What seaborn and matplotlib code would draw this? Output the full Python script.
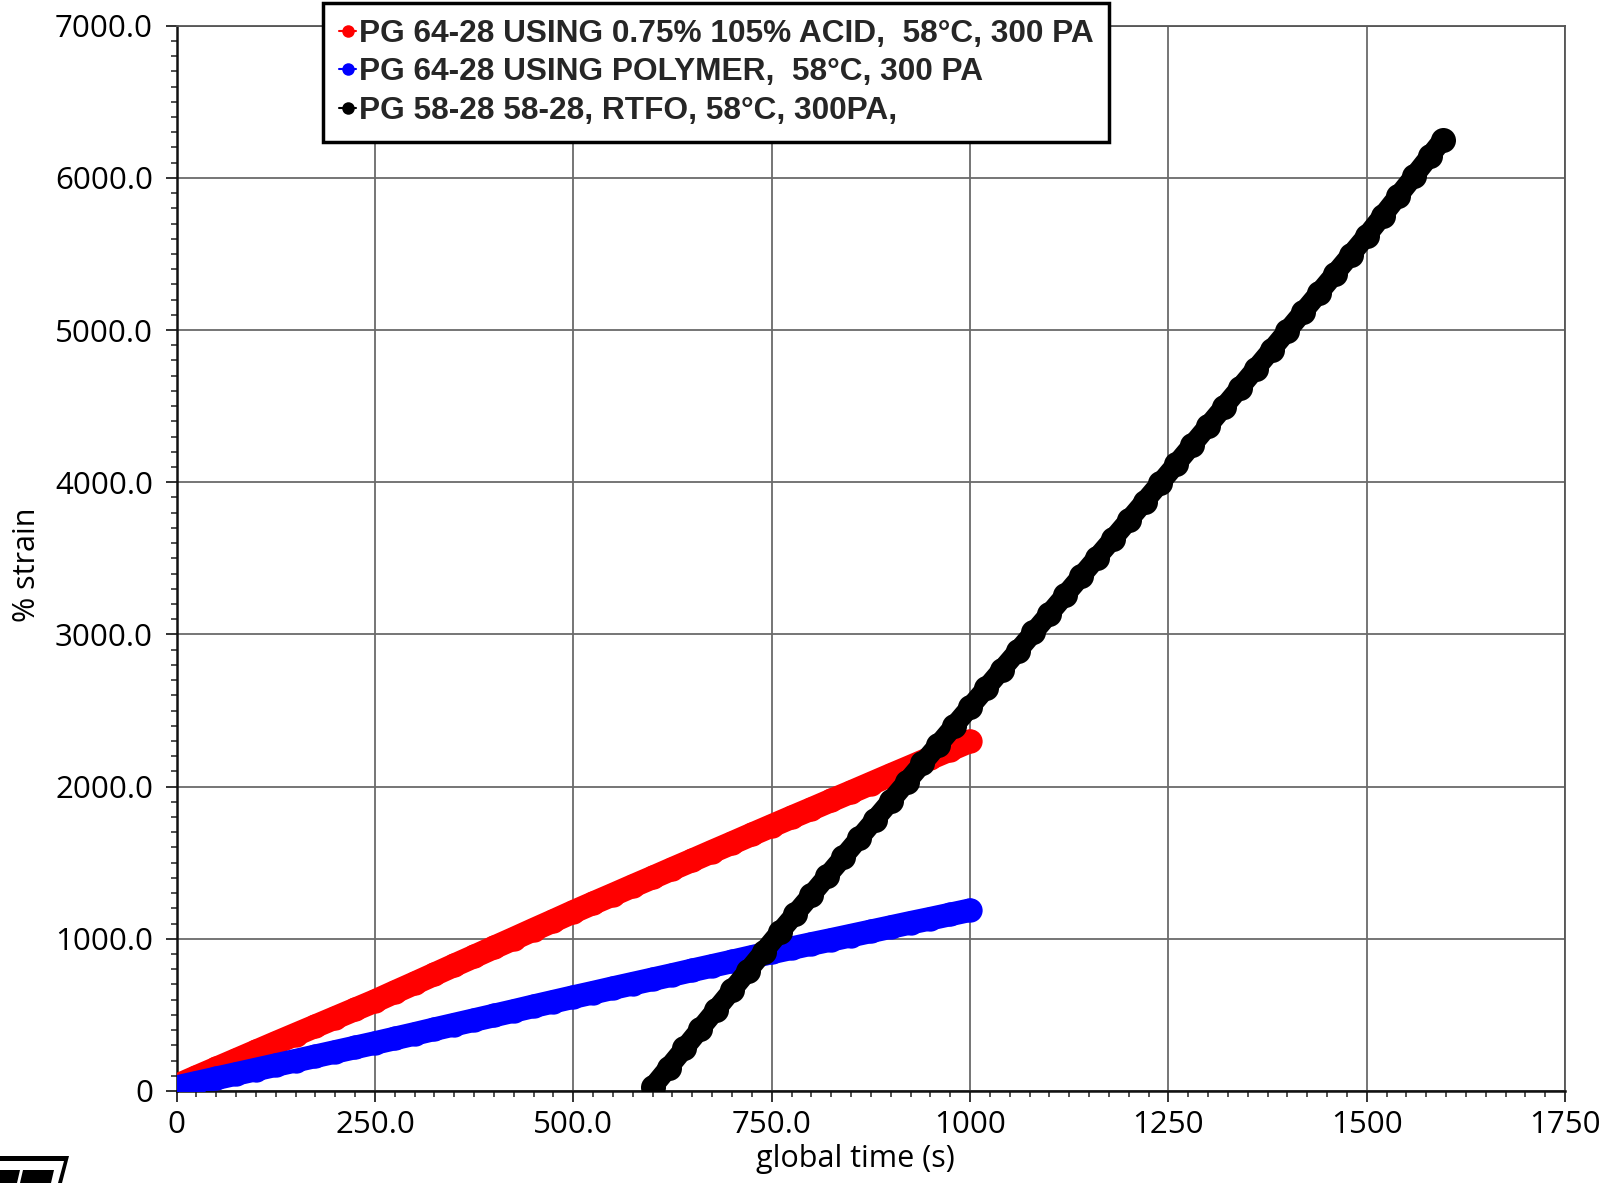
import numpy as np
import pandas as pd
import matplotlib
matplotlib.use("Agg")
import matplotlib.pyplot as plt
from matplotlib.lines import Line2D
from matplotlib.patches import Polygon
from matplotlib.ticker import MultipleLocator, FixedLocator, FixedFormatter
from matplotlib import font_manager
import seaborn as sns

# ---------------- data ----------------
red_t = [0, 25, 50, 75, 100, 125, 150, 175, 200, 225, 250, 275, 300, 325, 350, 375, 400,
         425, 450, 475, 500, 525, 550, 575, 600, 625, 650, 675, 700, 725, 750, 775, 800,
         825, 850, 875, 900, 925, 950, 975, 1000]
red_v = [35, 92, 148, 204, 260, 316, 371, 426, 481, 536, 591, 650, 708, 767, 826, 884, 943,
         1001, 1060, 1118, 1177, 1234, 1290, 1347, 1403, 1460, 1516, 1573, 1629, 1686, 1742,
         1798, 1853, 1909, 1964, 2020, 2076, 2131, 2187, 2242, 2298]

blue_t = red_t
blue_v = [25, 54, 83, 112, 141, 170, 199, 228, 257, 286, 315, 345, 375, 406, 436, 466, 496,
          526, 557, 587, 617, 646, 676, 705, 734, 763, 793, 822, 851, 881, 910, 938, 966,
          993, 1021, 1049, 1077, 1105, 1132, 1160, 1188]

black_t = [600, 620, 640, 660, 680, 700, 720, 740, 760, 780, 800, 820, 840, 860, 880, 900,
           920, 940, 960, 980, 1000, 1020, 1040, 1060, 1080, 1100, 1120, 1140, 1160, 1180,
           1200, 1220, 1240, 1260, 1280, 1300, 1320, 1340, 1360, 1380, 1400, 1420, 1440,
           1460, 1480, 1500, 1520, 1540, 1560, 1580, 1596]
black_v = [26, 153, 280, 408, 535, 662, 789, 916, 1042, 1165, 1288, 1412, 1535, 1659, 1782,
           1905, 2029, 2152, 2275, 2399, 2522, 2645, 2768, 2890, 3013, 3136, 3259, 3382, 3505,
           3627, 3750, 3873, 3996, 4120, 4245, 4370, 4495, 4620, 4745, 4870, 4995, 5120, 5245,
           5370, 5495, 5620, 5751, 5883, 6014, 6146, 6251]

labels = ["PG 64-28 USING 0.75% 105% ACID,  58°C, 300 PA",
          "PG 64-28 USING POLYMER,  58°C, 300 PA",
          "PG 58-28 58-28, RTFO, 58°C, 300PA,"]
colors = ["#ff0000", "#0000ff", "#000000"]

x_ticks = [0, 250, 500, 750, 1000, 1250, 1500, 1750]
x_ticklabels = ["0", "250.0", "500.0", "750.0", "1000", "1250", "1500", "1750"]
y_ticks = [0, 1000, 2000, 3000, 4000, 5000, 6000, 7000]
y_ticklabels = ["0", "1000.0", "2000.0", "3000.0", "4000.0", "5000.0", "6000.0", "7000.0"]

# ---------------- style ----------------
sns.set_theme(style="white")
names = {f.name for f in font_manager.fontManager.ttflist}
tick_font = "Open Sans" if "Open Sans" in names else "DejaVu Sans"
leg_font = "Liberation Sans Narrow" if "Liberation Sans Narrow" in names else "Liberation Sans"
plt.rcParams["font.family"] = [tick_font, "DejaVu Sans"]

fig = plt.figure(figsize=(16.1, 11.83), dpi=100)
fig.patch.set_facecolor("white")
ax = fig.add_axes([0.1097, 0.0778, 0.8624, 0.9005])

series = [(red_t, red_v), (blue_t, blue_v), (black_t, black_v)]
msizes = [17.5, 17.5, 18]
lwidths = [17, 17, 14.5]
for (t, v), c, lab, ms, lw in zip(series, colors, labels, msizes, lwidths):
    df = pd.DataFrame({"t": t, "v": v})
    sns.lineplot(data=df, x="t", y="v", ax=ax, color=c, linewidth=lw, marker="o",
                 markersize=ms, markeredgewidth=0, sort=False, estimator=None,
                 solid_capstyle="round", zorder=3)

ax.set_xlim(0, 1750)
ax.set_ylim(0, 7000)
ax.xaxis.set_major_locator(FixedLocator(x_ticks))
ax.xaxis.set_major_formatter(FixedFormatter(x_ticklabels))
ax.yaxis.set_major_locator(FixedLocator(y_ticks))
ax.yaxis.set_major_formatter(FixedFormatter(y_ticklabels))
ax.xaxis.set_minor_locator(MultipleLocator(25))
ax.yaxis.set_minor_locator(MultipleLocator(100))

ax.grid(True, which="major", color="#6a6a6a", linewidth=1.3, zorder=1)
ax.set_axisbelow(True)
ax.tick_params(axis="both", which="major", direction="out", length=8, width=1.3,
               color="#222222", labelsize=22.5, pad=9, labelcolor="black")
ax.tick_params(axis="x", which="major", pad=6)
ax.tick_params(axis="both", which="minor", direction="out", length=4.5, width=1.1,
               color="#222222")
ax.tick_params(axis="x", which="both", bottom=True, top=False)
ax.tick_params(axis="y", which="both", left=True, right=False)

for side in ["left", "bottom"]:
    ax.spines[side].set_color("#111111")
    ax.spines[side].set_linewidth(1.8)
for side in ["right", "top"]:
    ax.spines[side].set_color("#555555")
    ax.spines[side].set_linewidth(1.3)

ax.set_xlabel("global time (s)", fontsize=22, color="black")
ax.set_ylabel("% strain", fontsize=22, color="black")
ax.xaxis.set_label_coords(0.4886, -0.050)
ax.yaxis.set_label_coords(-0.097, 0.494)

handles = [Line2D([], [], color=c, marker="o", markersize=9, linewidth=1.5,
                  markeredgewidth=0) for c in colors]
leg = fig.legend(handles, labels, loc="upper left",
                 bbox_to_anchor=(323 / 1610, 1 - 3 / 1183),
                 bbox_transform=fig.transFigure,
                 prop={"family": leg_font, "weight": "bold", "size": 22.8},
                 frameon=True, fancybox=False, shadow=False, framealpha=1,
                 edgecolor="black", facecolor="white",
                 handlelength=0.55, handletextpad=0.08, borderpad=0.5,
                 labelspacing=0.27, borderaxespad=0.0)
leg.get_frame().set_linewidth(2.5)
leg.set_zorder(10)

# partial logo in the lower-left corner
W, H = 1610.0, 1183.0
def P(pts):
    return [(x / W, 1 - y / H) for x, y in pts]
fig.patches.append(Polygon(P([(0, 1156), (69, 1156), (62, 1183), (58, 1183), (64, 1161), (0, 1161)]),
                           closed=True, transform=fig.transFigure, facecolor="black",
                           edgecolor="none"))
fig.patches.append(Polygon(P([(0, 1170), (20, 1170), (17, 1183), (0, 1183)]),
                           closed=True, transform=fig.transFigure, facecolor="black",
                           edgecolor="none"))
fig.patches.append(Polygon(P([(23, 1170), (54, 1170), (51, 1183), (20, 1183)]),
                           closed=True, transform=fig.transFigure, facecolor="black",
                           edgecolor="none"))

fig.savefig("out.png", dpi=100, facecolor="white")
